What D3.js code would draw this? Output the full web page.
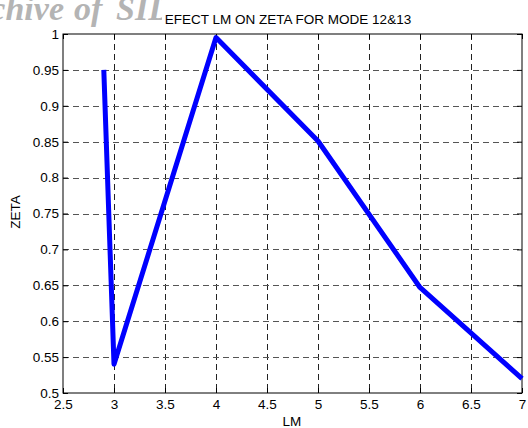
<!DOCTYPE html>
<html><head><meta charset="utf-8">
<script src="https://cdn.jsdelivr.net/npm/d3@7"></script>
<style>body{margin:0;background:#fff}svg{display:block}</style>
</head><body>
<svg id="c" width="528" height="428"></svg>
<script>
const lm = [2.9, 3, 4, 5, 6, 7];
const zeta = [0.95, 0.54, 0.995, 0.851, 0.647, 0.52];
const xTicks = [2.5, 3, 3.5, 4, 4.5, 5, 5.5, 6, 6.5, 7];
const yTicks = [0.5, 0.55, 0.6, 0.65, 0.7, 0.75, 0.8, 0.85, 0.9, 0.95, 1];
const title = "EFECT LM ON ZETA FOR MODE 12&13";
const watermark = ["Archive", "of", "SID"];

const svg = d3.select("#c");
const L = 63, R = 522, T = 34, B = 393;
const x = d3.scaleLinear().domain([2.5, 7]).range([L, R]);
const y = d3.scaleLinear().domain([0.5, 1]).range([B, T]);
const font = "Liberation Sans, Arial, sans-serif";
const fs = 13.5;

// watermark
const wm = svg.append("g")
  .attr("font-family", "Liberation Serif, Times New Roman, serif")
  .attr("font-style", "italic").attr("font-weight", "bold")
  .attr("font-size", 34).attr("fill", "#b4b4b4");
wm.append("text").attr("x", 64).attr("y", 20).attr("text-anchor", "end").text(watermark[0]);
wm.append("text").attr("x", 74).attr("y", 20).text(watermark[1]);
wm.append("text").attr("x", 116).attr("y", 20).text(watermark[2]);

// grid
const g = svg.append("g");
g.selectAll(".gx").data(xTicks.slice(1, -1)).join("line")
  .attr("x1", d => Math.round(x(d)) + 0.5).attr("x2", d => Math.round(x(d)) + 0.5)
  .attr("y1", T).attr("y2", B)
  .attr("stroke", "#222").attr("stroke-width", 1).attr("stroke-dasharray", "6,4");
g.selectAll(".gy").data(yTicks.slice(1, -1)).join("line")
  .attr("y1", d => Math.round(y(d)) + 0.5).attr("y2", d => Math.round(y(d)) + 0.5)
  .attr("x1", L).attr("x2", R)
  .attr("stroke", "#555").attr("stroke-width", 1).attr("stroke-dasharray", "6,4");

// axes with inward ticks
const ax = svg.append("g").attr("font-family", font);
const xb = d3.axisBottom(x).tickValues(xTicks).tickSize(-5).tickPadding(6).tickFormat(d3.format("~g"));
const xt = d3.axisTop(x).tickValues(xTicks).tickSize(-5).tickFormat("");
const yl = d3.axisLeft(y).tickValues(yTicks).tickSize(-5).tickPadding(4).tickFormat(d3.format("~g"));
const yr = d3.axisRight(y).tickValues(yTicks).tickSize(-5).tickFormat("");
function style(sel) {
  sel.selectAll("path").remove();
  sel.selectAll("line").attr("stroke", "#000");
  sel.selectAll("text").attr("font-size", fs).attr("fill", "#000").attr("font-family", font);
}
ax.append("g").attr("transform", `translate(0,${B})`).call(xb).call(style);
ax.append("g").attr("transform", `translate(0,${T})`).call(xt).call(style);
ax.append("g").attr("transform", `translate(${L},0)`).call(yl).call(style);
ax.append("g").attr("transform", `translate(${R},0)`).call(yr).call(style);

// frame
svg.append("rect").attr("x", L).attr("y", T).attr("width", R - L).attr("height", B - T)
  .attr("fill", "none").attr("stroke", "#000").attr("stroke-width", 1);

// line
const data = lm.map((d, i) => [d, zeta[i]]);
svg.append("path").datum(data)
  .attr("d", d3.line().x(d => x(d[0])).y(d => y(d[1])))
  .attr("fill", "none").attr("stroke", "#0000ff").attr("stroke-width", 5)
  .attr("stroke-linejoin", "round");

// title (on white backing, as in the reference)
svg.append("rect").attr("x", 162).attr("y", 0).attr("width", 254).attr("height", 30).attr("fill", "#fff");
svg.append("text").attr("x", 288).attr("y", 23.5).attr("text-anchor", "middle")
  .attr("font-family", font).attr("font-size", fs).text(title);
svg.append("text").attr("x", 292).attr("y", 426).attr("text-anchor", "middle")
  .attr("font-family", font).attr("font-size", fs).text("LM");
svg.append("text").attr("transform", "translate(20,212) rotate(-90)").attr("text-anchor", "middle")
  .attr("font-family", font).attr("font-size", fs).text("ZETA");
</script>
</body></html>
